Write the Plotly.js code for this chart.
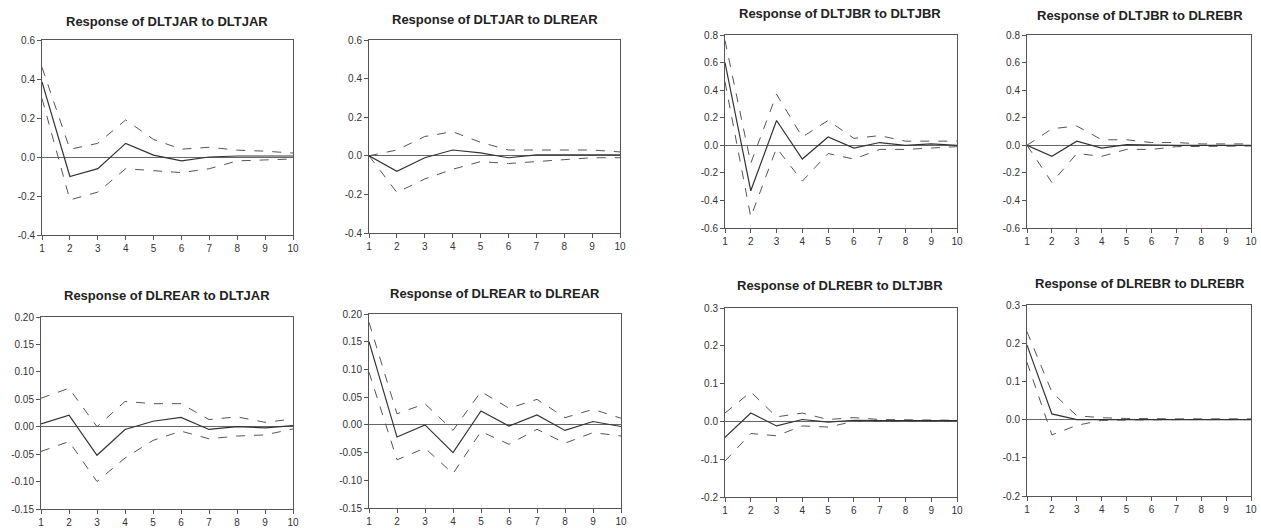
<!DOCTYPE html>
<html>
<head>
<meta charset="utf-8">
<script src="https://cdn.plot.ly/plotly-3.0.1.min.js"></script>
<style>html,body{margin:0;padding:0;background:#fff;}#chart{width:1261px;height:528px;}</style>
</head>
<body>
<div id="chart"></div>
<script>
// Periods
const periods = [1,2,3,4,5,6,7,8,9,10];

// Titles
const titles = [
  "Response of DLTJAR to DLTJAR",
  "Response of DLTJAR to DLREAR",
  "Response of DLREAR to DLTJAR",
  "Response of DLREAR to DLREAR",
  "Response of DLTJBR to DLTJBR",
  "Response of DLTJBR to DLREBR",
  "Response of DLREBR to DLTJBR",
  "Response of DLREBR to DLREBR"
];

// Panel 1: DLTJAR to DLTJAR
const p1_resp = [0.385,-0.10,-0.06,0.07,0.01,-0.02,0.0,0.005,0.005,0.005];
const p1_up   = [0.46,0.04,0.07,0.19,0.09,0.04,0.05,0.035,0.03,0.02];
const p1_lo   = [0.30,-0.22,-0.18,-0.06,-0.07,-0.08,-0.06,-0.02,-0.015,-0.01];
// Panel 2: DLTJAR to DLREAR
const p2_resp = [0.0,-0.08,-0.01,0.03,0.015,-0.01,0.005,0.005,0.005,0.005];
const p2_up   = [0.0,0.03,0.10,0.125,0.07,0.03,0.03,0.03,0.03,0.02];
const p2_lo   = [0.0,-0.19,-0.12,-0.07,-0.03,-0.04,-0.03,-0.02,-0.01,-0.01];
// Panel 3: DLREAR to DLTJAR
const p3_resp = [0.005,0.021,-0.052,-0.005,0.01,0.017,-0.005,0.0,-0.002,0.002];
const p3_up   = [0.052,0.07,0.0,0.046,0.042,0.042,0.013,0.018,0.008,0.014];
const p3_lo   = [-0.045,-0.027,-0.10,-0.057,-0.025,-0.008,-0.022,-0.017,-0.015,-0.004];
// Panel 4: DLREAR to DLREAR
const p4_resp = [0.15,-0.022,0.0,-0.05,0.025,-0.002,0.018,-0.01,0.006,-0.003];
const p4_up   = [0.185,0.02,0.038,-0.01,0.06,0.03,0.046,0.013,0.028,0.012];
const p4_lo   = [0.095,-0.063,-0.042,-0.088,-0.012,-0.035,-0.008,-0.033,-0.014,-0.02];
// Panel 5: DLTJBR to DLTJBR
const p5_resp = [0.60,-0.33,0.18,-0.10,0.06,-0.02,0.02,0.0,0.01,0.0];
const p5_up   = [0.76,-0.13,0.37,0.06,0.18,0.05,0.07,0.03,0.03,0.03];
const p5_lo   = [0.46,-0.52,-0.02,-0.26,-0.06,-0.10,-0.03,-0.03,-0.02,-0.01];
// Panel 6: DLTJBR to DLREBR
const p6_resp = [0.0,-0.08,0.03,-0.02,0.005,0.0,0.0,0.0,0.0,0.0];
const p6_up   = [0.0,0.12,0.14,0.04,0.04,0.02,0.02,0.01,0.01,0.01];
const p6_lo   = [0.0,-0.27,-0.06,-0.08,-0.03,-0.03,-0.01,-0.01,-0.005,-0.005];
// Panel 7: DLREBR to DLTJBR
const p7_resp = [-0.042,0.022,-0.012,0.005,-0.002,0.003,0.002,0.002,0.002,0.002];
const p7_up   = [0.022,0.078,0.012,0.022,0.005,0.01,0.005,0.004,0.003,0.003];
const p7_lo   = [-0.105,-0.032,-0.038,-0.012,-0.015,0.0,0.0,0.0,0.0,0.0];
// Panel 8: DLREBR to DLREBR
const p8_resp = [0.195,0.015,0.0,0.0,0.0,0.0,0.0,0.0,0.0,0.0];
const p8_up   = [0.23,0.072,0.01,0.005,0.003,0.002,0.002,0.002,0.002,0.002];
const p8_lo   = [0.15,-0.04,-0.015,-0.002,-0.001,0.0,0.0,0.0,0.0,0.0];

// Y tick values
const yt_a = [-0.4,-0.2,0.0,0.2,0.4,0.6];
const yt_b = [-0.15,-0.10,-0.05,0.00,0.05,0.10,0.15,0.20];
const yt_c = [-0.6,-0.4,-0.2,0.0,0.2,0.4,0.6,0.8];
const yt_d = [-0.2,-0.1,0.0,0.1,0.2,0.3];

const series = [
  [p1_resp,p1_up,p1_lo],[p2_resp,p2_up,p2_lo],[p3_resp,p3_up,p3_lo],[p4_resp,p4_up,p4_lo],
  [p5_resp,p5_up,p5_lo],[p6_resp,p6_up,p6_lo],[p7_resp,p7_up,p7_lo],[p8_resp,p8_up,p8_lo]
];

// Layout geometry in pixels: [left, right, top, bottom, titleX, titleY]
const W = 1261, H = 528;
const boxes = [
  [42,293,40,235,167,21],
  [369,620,40,233,495,20],
  [41,293,317,509,167,295],
  [369,621,314,508,495,293],
  [725,957,35,228,840,14],
  [1027,1251,35,228,1140,15],
  [725,957,308,497,840,285],
  [1027,1251,305,496,1140,283]
];
const yinfo = [
  [yt_a,1],[yt_a,1],[yt_b,2],[yt_b,2],
  [yt_c,1],[yt_c,1],[yt_d,1],[yt_d,1]
];

const data = [];
const layout = {
  width: W, height: H,
  margin: {l:0,r:0,t:0,b:0},
  paper_bgcolor: "#ffffff", plot_bgcolor: "#ffffff",
  showlegend: false,
  font: {family: "Liberation Sans, Arial, sans-serif", color: "#333"},
  annotations: []
};

for (let i = 0; i < 8; i++) {
  const n = i + 1;
  const xa = n === 1 ? "x" : "x" + n;
  const ya = n === 1 ? "y" : "y" + n;
  const [r, u, l] = series[i];
  data.push({x: periods, y: u, xaxis: xa, yaxis: ya, mode: "lines", line: {color: "#555", width: 1, dash: "dash"}});
  data.push({x: periods, y: l, xaxis: xa, yaxis: ya, mode: "lines", line: {color: "#555", width: 1, dash: "dash"}});
  data.push({x: periods, y: r, xaxis: xa, yaxis: ya, mode: "lines", line: {color: "#333", width: 1.2}});
  const b = boxes[i];
  const tv = yinfo[i][0];
  const xkey = n === 1 ? "xaxis" : "xaxis" + n;
  const ykey = n === 1 ? "yaxis" : "yaxis" + n;
  layout[xkey] = {
    domain: [b[0]/W, b[1]/W], anchor: ya, range: [1, 10],
    tickvals: periods, ticks: "outside", ticklen: 4, tickcolor: "#555",
    showgrid: false, zeroline: false, showline: true, mirror: true,
    linecolor: "#555", linewidth: 1, ticklabeloverflow: "allow",
    tickfont: {size: 10, color: "#333"}
  };
  layout[ykey] = {
    domain: [1 - b[3]/H, 1 - b[2]/H], anchor: xa,
    range: [tv[0], tv[tv.length-1]],
    tickvals: tv, ticktext: tv.map(v => v.toFixed(yinfo[i][1])),
    ticks: "outside", ticklen: 4, tickcolor: "#555",
    showgrid: false, zeroline: true, zerolinecolor: "#666", zerolinewidth: 1,
    showline: true, mirror: true, linecolor: "#555", linewidth: 1,
    tickfont: {size: 10, color: "#333"}
  };
  layout.annotations.push({
    text: "<b>" + titles[i] + "</b>", xref: "paper", yref: "paper",
    x: b[4]/W, y: 1 - b[5]/H, xanchor: "center", yanchor: "middle",
    showarrow: false, font: {size: 13, color: "#222"}
  });
}

Plotly.newPlot("chart", data, layout, {staticPlot: true});
</script>
</body>
</html>
